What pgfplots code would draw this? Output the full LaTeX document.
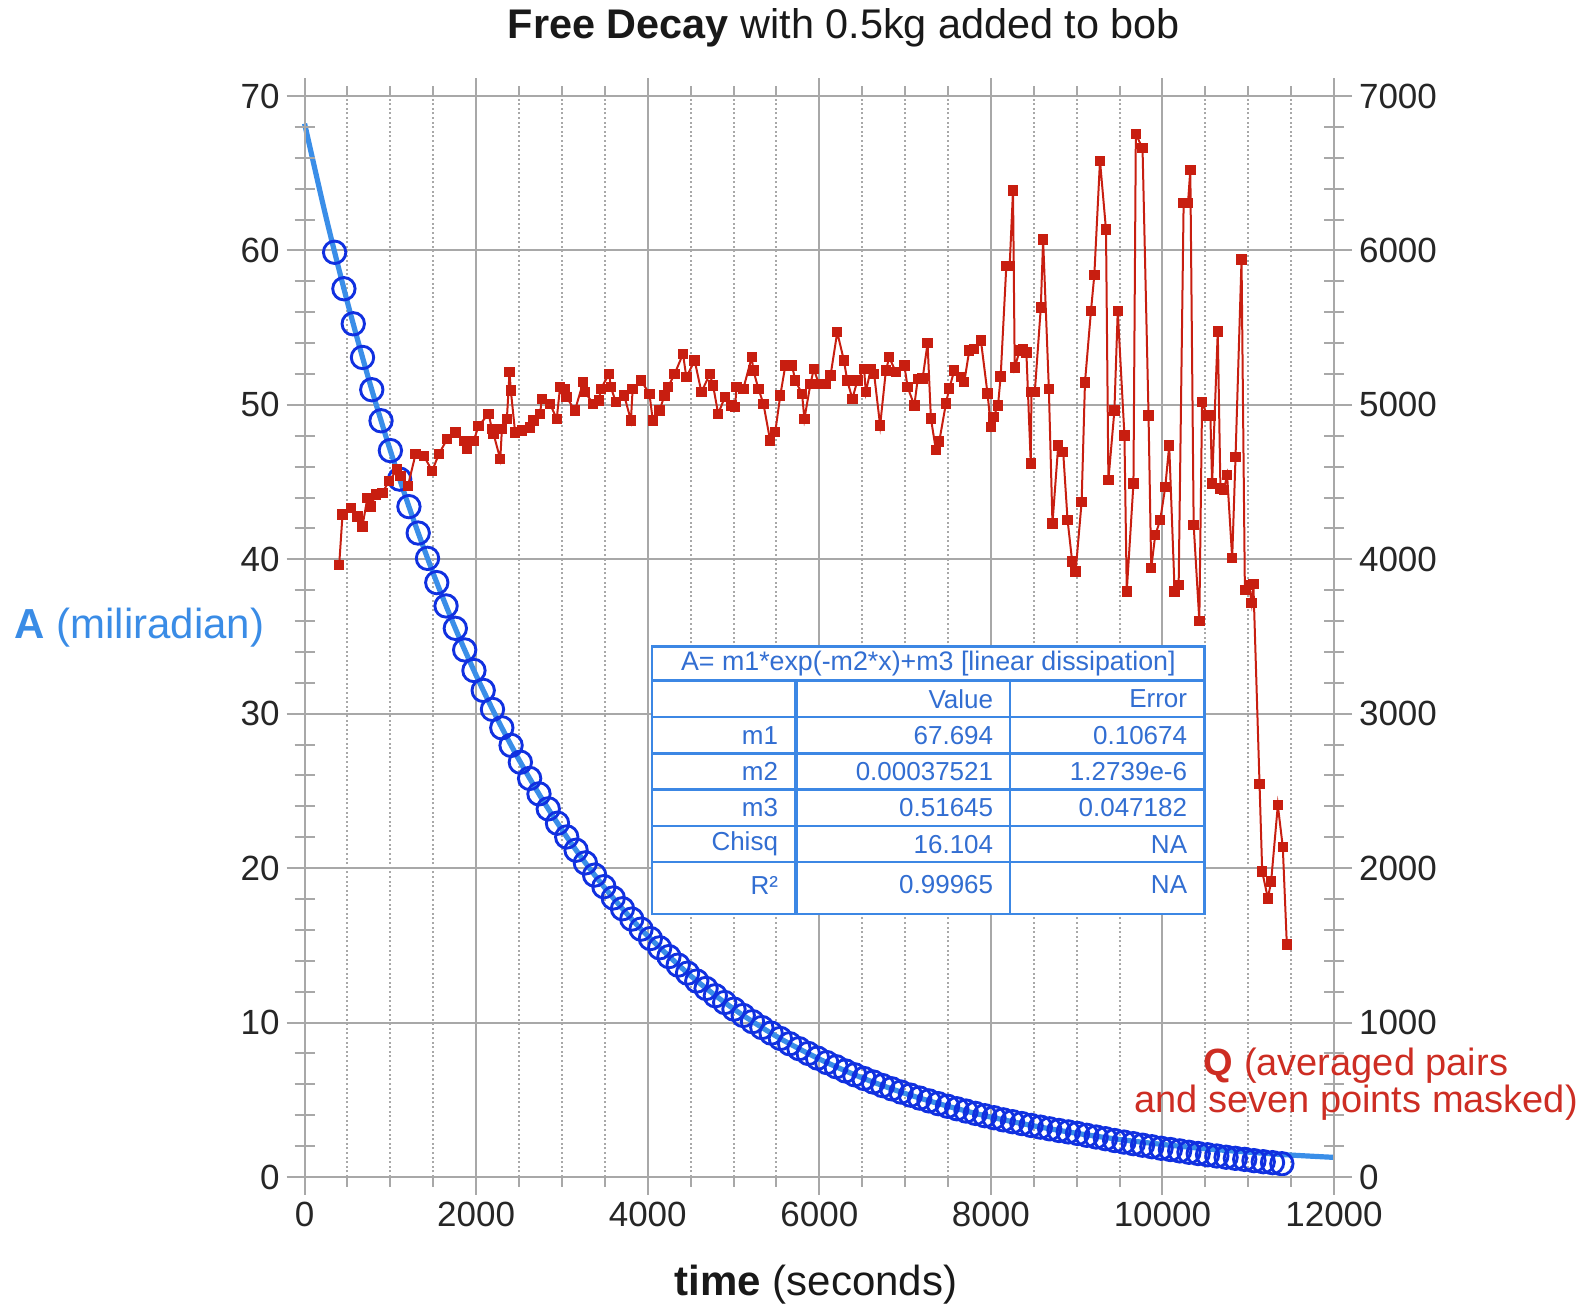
\documentclass[border=0pt]{standalone}
\usepackage{pgfplots}
\pgfplotsset{compat=1.18}
\usepackage{fontspec}
\setmainfont{Liberation Sans}
\definecolor{fitblue}{RGB}{58,142,232}
\definecolor{circblue}{RGB}{16,48,224}
\definecolor{qred}{RGB}{200,30,16}
\definecolor{gridgray}{RGB}{168,168,168}
\definecolor{tabblue}{RGB}{60,135,228}
\definecolor{tabtext}{RGB}{50,110,210}
\definecolor{labred}{RGB}{205,45,35}
\definecolor{labblue}{RGB}{58,140,230}

\pgfplotstableread{
t A
350 59.88
458 57.52
567 55.25
675 53.07
783 50.98
891 48.97
1000 47.04
1108 45.19
1216 43.41
1324 41.70
1433 40.06
1541 38.49
1649 36.98
1757 35.53
1866 34.13
1974 32.80
2082 31.51
2190 30.28
2299 29.09
2407 27.95
2515 26.86
2623 25.81
2732 24.81
2840 23.84
2948 22.91
3056 22.02
3165 21.16
3273 20.34
3381 19.55
3489 18.80
3598 18.07
3706 17.37
3814 16.70
3922 16.05
4031 15.44
4139 14.84
4247 14.27
4355 13.72
4464 13.20
4572 12.69
4680 12.21
4788 11.74
4897 11.30
5005 10.87
5113 10.46
5221 10.06
5330 9.68
5438 9.32
5546 8.97
5654 8.63
5763 8.31
5871 8.00
5979 7.70
6087 7.41
6196 7.14
6304 6.87
6412 6.62
6520 6.38
6629 6.15
6737 5.92
6845 5.71
6953 5.50
7062 5.30
7170 5.11
7278 4.93
7386 4.75
7495 4.58
7603 4.42
7711 4.27
7819 4.12
7928 3.97
8036 3.84
8144 3.70
8252 3.58
8361 3.46
8469 3.34
8577 3.23
8685 3.12
8794 3.01
8902 2.92
9010 2.82
9118 2.70
9227 2.59
9335 2.48
9443 2.36
9551 2.26
9660 2.16
9768 2.06
9876 1.96
9984 1.86
10093 1.78
10201 1.69
10309 1.60
10417 1.52
10526 1.44
10634 1.36
10742 1.28
10850 1.21
10959 1.14
11067 1.06
11175 0.99
11283 0.93
11392 0.86
}\Adata

\pgfplotstableread{
t A
0 68.21
250 62.15
500 56.63
750 51.61
1000 47.03
1250 42.87
1500 39.08
1750 35.62
2000 32.48
2250 29.62
2500 27.01
2750 24.64
3000 22.48
3250 20.51
3500 18.72
3750 17.09
4000 15.61
4500 13.03
5000 10.89
5500 9.11
6000 7.64
6500 6.42
7000 5.41
7500 4.58
8000 3.88
8500 3.31
9000 2.83
9500 2.43
10000 2.11
10500 1.83
11000 1.61
11500 1.42
12000 1.27
}\Afit

\pgfplotstableread{
t Q
403 3963
442 4289
539 4333
616 4278
674 4213
732 4398
771 4343
829 4420
906 4430
984 4506
1080 4583
1119 4539
1204 4474
1293 4680
1390 4670
1487 4572
1564 4680
1661 4778
1758 4822
1855 4767
1893 4713
1971 4767
2029 4865
2145 4941
2184 4843
2203 4811
2281 4648
2300 4843
2358 4909
2389 5213
2404 5093
2454 4822
2532 4833
2629 4854
2668 4898
2745 4941
2765 5039
2861 5007
2939 4909
2978 5115
3035 5104
3054 5050
3151 4963
3248 5148
3268 5083
3364 5007
3433 5028
3453 5104
3550 5200
3570 5114
3629 5017
3726 5060
3804 4899
3824 5104
3922 5157
4020 5071
4059 4899
4137 4963
4195 5060
4235 5114
4313 5200
4411 5330
4450 5179
4547 5287
4626 5082
4723 5200
4762 5125
4821 4942
4899 5050
4977 4996
5017 4985
5036 5114
5114 5104
5212 5308
5232 5222
5290 5104
5349 5006
5427 4769
5486 4823
5545 5060
5604 5255
5682 5255
5720 5157
5799 5071
5826 4909
5897 5136
5936 5233
5994 5136
6072 5136
6131 5190
6209 5470
6287 5287
6326 5157
6385 5039
6444 5157
6522 5233
6542 5082
6600 5233
6639 5200
6709 4866
6776 5222
6815 5308
6893 5211
6991 5255
7030 5114
7108 4996
7147 5168
7204 5170
7262 5399
7301 4912
7359 4708
7398 4762
7476 5009
7515 5105
7573 5223
7651 5180
7690 5148
7748 5352
7806 5363
7884 5416
7961 5073
8000 4858
8030 4921
8083 4996
8114 5183
8180 5899
8219 5899
8258 6387
8278 5243
8336 5351
8375 5361
8414 5340
8465 4620
8473 5082
8512 5082
8582 5630
8609 6071
8676 5103
8718 4232
8785 4737
8843 4695
8894 4254
8948 3985
8988 3921
9058 4372
9097 5146
9167 5609
9206 5841
9272 6581
9342 6135
9370 4512
9440 4963
9479 5609
9557 4802
9584 3792
9662 4491
9690 6753
9768 6662
9838 4931
9869 3942
9916 4157
9974 4254
10033 4469
10079 4737
10142 3792
10189 3835
10247 6307
10298 6307
10325 6522
10364 4222
10430 3602
10462 5017
10520 4931
10559 4931
10579 4491
10645 5475
10676 4458
10715 4448
10754 4544
10813 4007
10852 4663
10922 5942
10961 3803
11010 3835
11040 3717
11060 3841
11132 2543
11163 1978
11229 1804
11267 1913
11345 2407
11403 2137
11450 1506
}\Qdata

\pgfplotsset{
  base/.style={
    at={(152.3bp,66.5bp)}, anchor=south west,
    width=514.7bp, height=540.5bp, scale only axis,
    xmin=0, xmax=12000, ymin=0, ymax=70,
    axis line style={gridgray, line width=1bp},
    tick style={gridgray, line width=1bp},
    major tick length=9bp, minor tick length=5bp,
    ticklabel style={font=\fontsize{17.5bp}{21bp}\selectfont, text=black!85},
    /pgf/number format/assume math mode=true,
    /pgf/number format/1000 sep={},
    scaled x ticks=false, scaled y ticks=false,
    clip=false,
  }
}

\begin{document}
\begin{tikzpicture}
\useasboundingbox (0,0) rectangle (791.5bp,655bp);

% main axis: A (left), grid
\begin{axis}[base,
  xtick={0,2000,...,12000}, minor x tick num=3,
  ytick={0,10,...,70},
  tick align=outside, xtick pos=both, ytick pos=left,
  xticklabel pos=lower, yticklabel pos=left,
  xmajorgrids, xminorgrids, ymajorgrids,
  major grid style={gridgray, line width=1bp},
  minor grid style={gridgray, line width=1bp, dash pattern=on 1bp off 1.3bp},
]
\addplot[fitblue, line width=2.6bp, no marks, smooth] table[x=t,y=A]{\Afit};
\addplot[only marks, mark=o, mark size=5.6bp, mark options={circblue, line width=1.45bp}] table[x=t,y=A]{\Adata};

% fit table
\fill[white] (axis cs:4051,34.36) rectangle (axis cs:10492,17.05);
\draw[tabblue, line width=1.2bp] (axis cs:4051,34.36) rectangle (axis cs:10492,17.05);
\draw[tabblue, line width=1.2bp] (axis cs:4051,32.14) -- (axis cs:10492,32.14);
\draw[tabblue, line width=1.2bp] (axis cs:4051,29.78) -- (axis cs:10492,29.78);
\draw[tabblue, line width=1.2bp] (axis cs:4051,27.43) -- (axis cs:10492,27.43);
\draw[tabblue, line width=1.2bp] (axis cs:4051,25.08) -- (axis cs:10492,25.08);
\draw[tabblue, line width=1.2bp] (axis cs:4051,22.73) -- (axis cs:10492,22.73);
\draw[tabblue, line width=1.2bp] (axis cs:4051,20.38) -- (axis cs:10492,20.38);
\draw[tabblue, line width=2bp] (axis cs:5723,32.14) -- (axis cs:5723,17.05);
\draw[tabblue, line width=1.2bp] (axis cs:8220,32.14) -- (axis cs:8220,17.05);
\node[text=tabtext, font=\fontsize{13.4bp}{15bp}\selectfont, inner sep=0pt] at (axis cs:7271,33.25) {A= m1*exp(-m2*x)+m3 [linear dissipation]};
\node[text=tabtext, font=\fontsize{13bp}{15bp}\selectfont, inner sep=0pt, anchor=east] at (axis cs:8031,30.96) {Value};
\node[text=tabtext, font=\fontsize{13bp}{15bp}\selectfont, inner sep=0pt, anchor=east] at (axis cs:10292,30.96) {Error};
\node[text=tabtext, font=\fontsize{13bp}{15bp}\selectfont, inner sep=0pt, anchor=east] at (axis cs:5523,28.60) {m1};
\node[text=tabtext, font=\fontsize{13bp}{15bp}\selectfont, inner sep=0pt, anchor=east] at (axis cs:8031,28.60) {67.694};
\node[text=tabtext, font=\fontsize{13bp}{15bp}\selectfont, inner sep=0pt, anchor=east] at (axis cs:10292,28.60) {0.10674};
\node[text=tabtext, font=\fontsize{13bp}{15bp}\selectfont, inner sep=0pt, anchor=east] at (axis cs:5523,26.25) {m2};
\node[text=tabtext, font=\fontsize{13bp}{15bp}\selectfont, inner sep=0pt, anchor=east] at (axis cs:8031,26.25) {0.00037521};
\node[text=tabtext, font=\fontsize{13bp}{15bp}\selectfont, inner sep=0pt, anchor=east] at (axis cs:10292,26.25) {1.2739e-6};
\node[text=tabtext, font=\fontsize{13bp}{15bp}\selectfont, inner sep=0pt, anchor=east] at (axis cs:5523,23.90) {m3};
\node[text=tabtext, font=\fontsize{13bp}{15bp}\selectfont, inner sep=0pt, anchor=east] at (axis cs:8031,23.90) {0.51645};
\node[text=tabtext, font=\fontsize{13bp}{15bp}\selectfont, inner sep=0pt, anchor=east] at (axis cs:10292,23.90) {0.047182};
\node[text=tabtext, font=\fontsize{13bp}{15bp}\selectfont, inner sep=0pt, anchor=east] at (axis cs:5523,21.55) {Chisq};
\node[text=tabtext, font=\fontsize{13bp}{15bp}\selectfont, inner sep=0pt, anchor=east] at (axis cs:8031,21.55) {16.104};
\node[text=tabtext, font=\fontsize{13bp}{15bp}\selectfont, inner sep=0pt, anchor=east] at (axis cs:10292,21.55) {NA};
\node[text=tabtext, font=\fontsize{13bp}{15bp}\selectfont, inner sep=0pt, anchor=east] at (axis cs:5523,18.85) {R²};
\node[text=tabtext, font=\fontsize{13bp}{15bp}\selectfont, inner sep=0pt, anchor=east] at (axis cs:8031,18.95) {0.99965};
\node[text=tabtext, font=\fontsize{13bp}{15bp}\selectfont, inner sep=0pt, anchor=east] at (axis cs:10292,18.95) {NA};
\end{axis}

% right axis: Q
\begin{axis}[base, ymin=0, ymax=7000,
  ytick={0,1000,...,7000}, xtick=\empty,
  tick align=outside, ytick pos=right, yticklabel pos=right,
]
\addplot[qred, line width=1bp, mark=square*, mark size=2.1bp, mark options={qred}] table[x=t,y=Q]{\Qdata};
\end{axis}

% minor y ticks, centred on both side lines
\begin{axis}[base, xtick=\empty,
  ytick={2,4,6,8,12,14,16,18,22,24,26,28,32,34,36,38,42,44,46,48,52,54,56,58,62,64,66,68},
  yticklabels={}, major tick length=10bp,
  tick align=center, ytick pos=both, axis line style={draw=none},
]
\end{axis}

\node[font=\fontsize{20.7bp}{24bp}\selectfont, text=black!90] at (422bp,641bp) {\textbf{Free Decay} with 0.5kg added to bob};
\node[anchor=west, text=labblue, font=\fontsize{21bp}{25bp}\selectfont, inner sep=0pt] at (7bp,341bp) {\textbf{A} (miliradian)};
\node[font=\fontsize{21bp}{25bp}\selectfont, text=black!90] at (408bp,12.5bp) {\textbf{time} (seconds)};
\node[text=labred, align=center, font=\fontsize{19bp}{17.7bp}\selectfont, inner sep=0pt] at (678bp,113bp) {\textbf{Q} (averaged pairs\\and seven points masked)};
\end{tikzpicture}
\end{document}
